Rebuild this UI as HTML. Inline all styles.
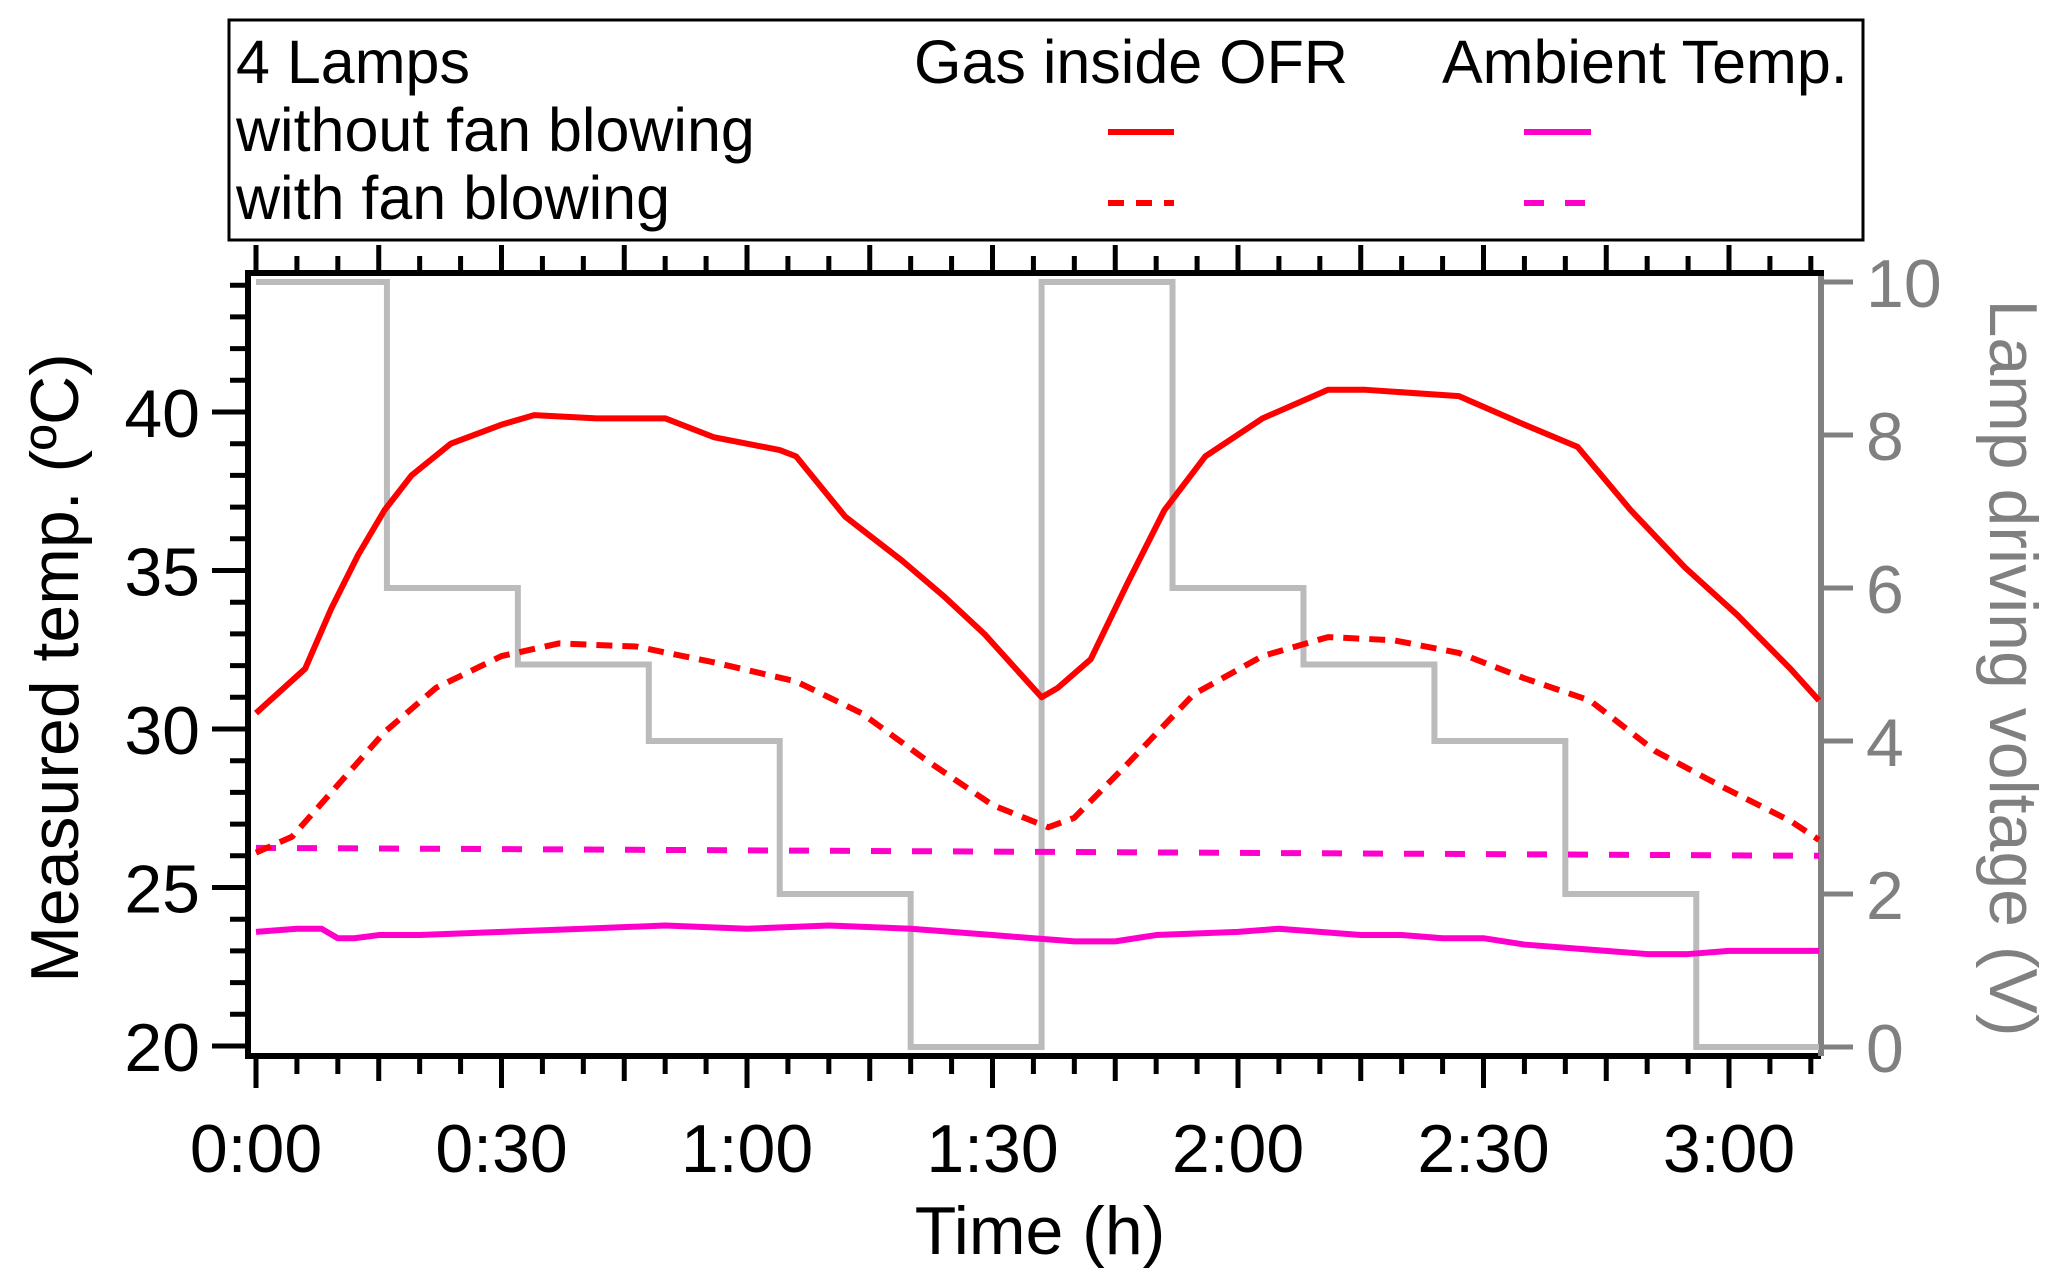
<!DOCTYPE html>
<html><head><meta charset="utf-8"><style>
html,body{margin:0;padding:0;background:#fff}
svg{display:block}
text{font-family:"Liberation Sans",Arial,sans-serif}
</style></head><body>
<svg id="chart" width="2067" height="1280" viewBox="0 0 2067 1280" xmlns="http://www.w3.org/2000/svg">
<g>
<rect x="229" y="20" width="1634" height="220" fill="#fff" stroke="#000" stroke-width="3"/>
<text x="236" y="83" font-size="61">4 Lamps</text>
<text x="236" y="151" font-size="61">without fan blowing</text>
<text x="236" y="219" font-size="61">with fan blowing</text>
<text x="914" y="83" font-size="61">Gas inside OFR</text>
<text x="1442" y="83" font-size="61">Ambient Temp.</text>
<line x1="1108" y1="132" x2="1174" y2="132" stroke="#f00" stroke-width="6"/>
<line x1="1108" y1="203" x2="1174" y2="203" stroke="#f00" stroke-width="6" stroke-dasharray="16,12"/>
<line x1="1524" y1="132" x2="1591" y2="132" stroke="#f0c" stroke-width="6"/>
<line x1="1524" y1="203" x2="1591" y2="203" stroke="#f0c" stroke-width="6" stroke-dasharray="20,21"/>
</g>
<g id="axes"></g>
<g id="marks"></g>
<text transform="translate(78,668) rotate(-90)" text-anchor="middle" font-size="68">Measured temp. (ºC)</text>
<text transform="translate(1990,668) rotate(90)" text-anchor="middle" font-size="68" fill="#808080">Lamp driving voltage (V)</text>
<text x="1040" y="1254" text-anchor="middle" font-size="68">Time (h)</text>
</svg>
<script>
// data
const voltTimes = [0,16,32,48,64,80,96,112,128,144,160,176,191];
const voltValues = [10,6,5,4,2,0,10,6,5,4,2,0,0];
const gasNoFanT = [0,6,9.2,12.5,15.7,19,23.8,30,34,41.6,50,56,64,66,72,79,84,89,96,98,102,106.5,111,116,123,131,135.6,147,155,161.5,168,174.6,181,187.5,191];
const gasNoFanV = [30.5,31.9,33.8,35.5,36.9,38.0,39.0,39.6,39.9,39.8,39.8,39.2,38.8,38.6,36.7,35.3,34.2,33.0,31.0,31.3,32.2,34.6,36.9,38.6,39.8,40.7,40.7,40.5,39.6,38.9,36.9,35.1,33.6,31.9,30.9];
const gasFanT = [0,4.4,9.2,15.7,22,30,37,46.5,56,66,74,82,90,96.8,100,106.5,114.6,123,131,139,147,155,163,171,179,187.5,191];
const gasFanV = [26.1,26.6,28.0,29.9,31.3,32.3,32.7,32.6,32.1,31.5,30.5,29.0,27.6,26.9,27.2,28.9,31.1,32.3,32.9,32.8,32.4,31.6,30.9,29.3,28.2,27.1,26.5];
const ambFanT = [0,191];
const ambFanV = [26.25,26.0];
const ambNoFanT = [0,5,8,10,12,15,20,30,40,50,60,70,80,85,90,95,100,105,110,120,125,130,135,140,145,150,155,160,165,170,175,180,185,191];
const ambNoFanV = [23.6,23.7,23.7,23.4,23.4,23.5,23.5,23.6,23.7,23.8,23.7,23.8,23.7,23.6,23.5,23.4,23.3,23.3,23.5,23.6,23.7,23.6,23.5,23.5,23.4,23.4,23.2,23.1,23.0,22.9,22.9,23.0,23.0,23.0];
const yTicks = [20,25,30,35,40];
const y2Ticks = [0,2,4,6,8,10];
const xTickLabels = ["0:00","0:30","1:00","1:30","2:00","2:30","3:00"];
const xTickMinutes = [0,30,60,90,120,150,180];

const L=248,R=1821,T=273,B=1056;
const x=t=>256+t*245.5/30;
const y=v=>1046-(v-20)*31.7;
const y2=v=>1047-v*76.5;
const NS="http://www.w3.org/2000/svg";
const axes=document.getElementById('axes'), marks=document.getElementById('marks');
function mk(tag,attrs,parent){const e=document.createElementNS(NS,tag);for(const k in attrs)e.setAttribute(k,attrs[k]);parent.appendChild(e);return e;}

let d='M'+x(voltTimes[0])+','+y2(voltValues[0]);
for(let i=1;i<voltTimes.length;i++){d+=' H'+x(voltTimes[i])+' V'+y2(voltValues[i]);}
let p=mk('path',{d:d,fill:'none',stroke:'#bbb','stroke-width':6},marks);



function line(ts,vs,color,dash,name){
  const pts=ts.map((t,i)=>x(t)+','+y(vs[i])).join(' ');
  const e=mk('polyline',{points:pts,fill:'none',stroke:color,'stroke-width':6,'stroke-linejoin':'round'},marks);
  if(dash)e.setAttribute('stroke-dasharray',dash);
  
  
}
line(ambFanT,ambFanV,'#f0c','20,21','ambient-with-fan');
line(ambNoFanT,ambNoFanV,'#f0c',null,'ambient-without-fan');
line(gasFanT,gasFanV,'#f00','16,10','gas-with-fan');
line(gasNoFanT,gasNoFanV,'#f00',null,'gas-without-fan');

let e;
e=mk('line',{x1:L,y1:T,x2:L,y2:B+3,stroke:'#000','stroke-width':6},axes);


e=mk('line',{x1:L-3,y1:B,x2:R,y2:B,stroke:'#000','stroke-width':6},axes);


e=mk('line',{x1:L-3,y1:T,x2:R+3,y2:T,stroke:'#000','stroke-width':6},axes);


e=mk('line',{x1:R,y1:T+3,x2:R,y2:B,stroke:'#808080','stroke-width':6},axes);



for(let v=20;v<=44;v++){
  const major=v%5===0;
  e=mk('line',{x1:L-(major?36:18),y1:y(v),x2:L,y2:y(v),stroke:'#000','stroke-width':5},axes);
  
  
}
yTicks.forEach(v=>{
  const t=mk('text',{x:200,y:y(v)+25,'text-anchor':'end','font-size':68},axes);t.textContent=v;
  
  
});
y2Ticks.forEach(v=>{
  e=mk('line',{x1:R,y1:y2(v),x2:R+32,y2:y2(v),stroke:'#808080','stroke-width':5},axes);
  
  
  const t=mk('text',{x:1866,y:y2(v)+25,'font-size':68,fill:'#808080'},axes);t.textContent=v;
  
  
});
for(let m=0;m<=190;m+=5){
  const len=m%30===0?32:(m%15===0?25:18);
  e=mk('line',{x1:x(m),y1:B,x2:x(m),y2:B+len,stroke:'#000','stroke-width':5},axes);
  
  
}
xTickMinutes.forEach((m,i)=>{
  const t=mk('text',{x:x(m),y:1172,'text-anchor':'middle','font-size':68},axes);t.textContent=xTickLabels[i];
  
  
});
for(let m=0;m<=190;m+=5){
  const len=m%15===0?28:17;
  e=mk('line',{x1:x(m),y1:T,x2:x(m),y2:T-len,stroke:'#000','stroke-width':5},axes);
  
  
}
</script>
</body></html>
